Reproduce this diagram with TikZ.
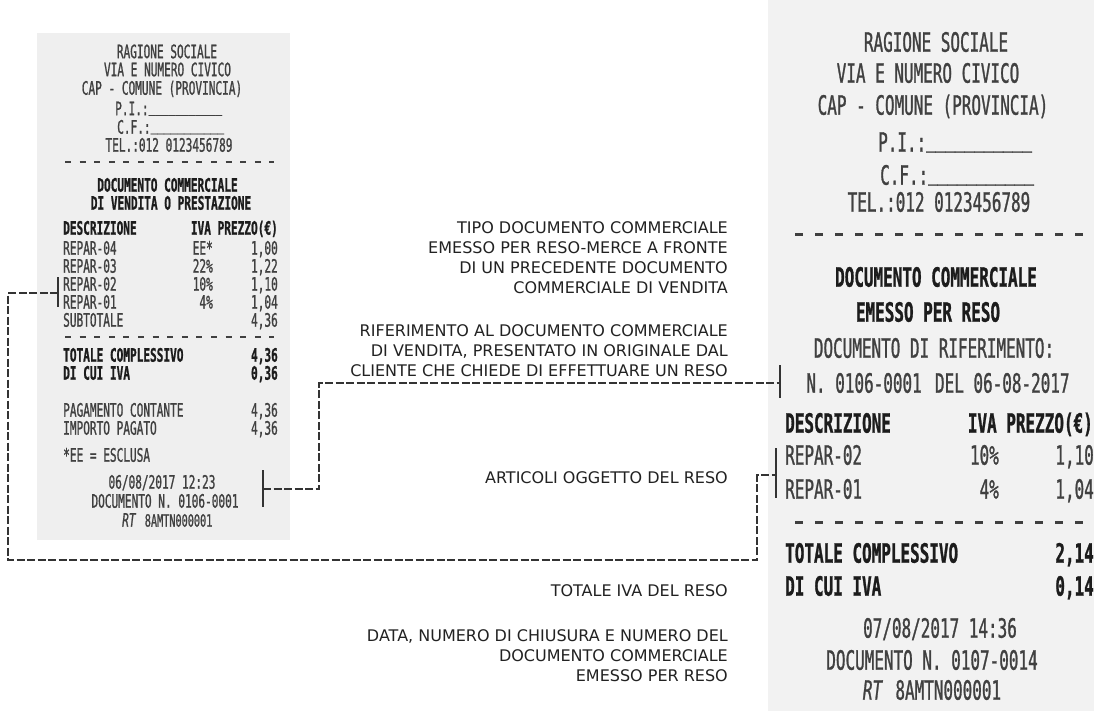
\documentclass[tikz,border=0pt]{standalone}
\usepackage{fontspec}
\newfontfamily\rcptfont[FakeStretch=0.6, FakeBold=1]{DejaVu Sans Mono}
\newfontfamily\labfont{DejaVu Sans}
\newcommand{\blankfield}{\raisebox{0.2em}{\_\_\_\_\_\_\_\_\_\_\_}}
\definecolor{paperl}{HTML}{EFEFEF}
\definecolor{paperr}{HTML}{F2F2F2}
\definecolor{ink}{HTML}{404040}
\definecolor{inkb}{HTML}{1C1C1C}
\definecolor{labink}{HTML}{222222}
\definecolor{linec}{HTML}{333333}
\begin{document}
\begin{tikzpicture}[x=1pt,y=-1pt,
  sm/.style={font=\rcptfont\fontsize{18.5}{20}\selectfont, text=ink, inner sep=0},
  smb/.style={font=\rcptfont\fontsize{18.5}{20}\selectfont\bfseries, text=inkb, inner sep=0},
  lg/.style={font=\rcptfont\fontsize{26.6}{30}\selectfont, text=ink, inner sep=0},
  lgb/.style={font=\rcptfont\fontsize{26.6}{30}\selectfont\bfseries, text=inkb, inner sep=0},
  lab/.style={font=\labfont\fontsize{16}{20}\selectfont, text=labink, align=right, inner sep=0, anchor=north east},
  connline/.style={draw=linec, line width=1.3pt, dash pattern=on 8pt off 2.5pt},
  brk/.style={draw=linec, line width=1.3pt},
  sdash/.style={draw=ink, line width=2pt, dash pattern=on 6pt off 8.6pt},
  ldash/.style={draw=ink, line width=3pt, dash pattern=on 8pt off 12pt},
]
\clip (0,0) rectangle (1094,711);
\fill[white] (0,0) rectangle (1094,711);
\fill[paperl] (37,33) rectangle (290,540);
\fill[paperr] (768,0) rectangle (1094,711);

% ---------- left receipt ----------
\node[sm, anchor=base] (l1) at (167,58.2) {RAGIONE SOCIALE};
\node[sm, anchor=base] (l2) at (167.5,76.2) {VIA E NUMERO CIVICO};
\node[sm, anchor=base, text depth=0pt] (l3) at (162,94.7) {CAP - COMUNE (PROVINCIA)};
\node[sm, anchor=base west] (l4) at (115,115.2) {P.I.:\blankfield};
\node[sm, anchor=base west] (l5) at (117,133.7) {C.F.:\blankfield};
\node[sm, anchor=base] (l6) at (169,151.7) {TEL.:012 0123456789};
\draw[sdash] (65,162) -- (274,162);
\node[smb, anchor=base] (l7) at (167.5,191.7) {DOCUMENTO COMMERCIALE};
\node[smb, anchor=base] (l8) at (171,209.7) {DI VENDITA O PRESTAZIONE};
\node[smb, anchor=base west] (ld) at (63,234.7) {DESCRIZIONE};
\node[smb, anchor=base east] (li) at (278,234.7) {IVA PREZZO(€)};
\node[sm, anchor=base west] (lr4) at (63,254.7) {REPAR-04};
\node[sm, anchor=base east] (lv4) at (213,254.7) {EE*};
\node[sm, anchor=base east] (lp4) at (278,254.7) {1,00};
\node[sm, anchor=base west] (lr3) at (63,272.7) {REPAR-03};
\node[sm, anchor=base east] (lv3) at (213,272.7) {22\%};
\node[sm, anchor=base east] (lp3) at (278,272.7) {1,22};
\node[sm, anchor=base west] (lr2) at (63,290.7) {REPAR-02};
\node[sm, anchor=base east] (lv2) at (213,290.7) {10\%};
\node[sm, anchor=base east] (lp2) at (278,290.7) {1,10};
\node[sm, anchor=base west] (lr1) at (63,308.7) {REPAR-01};
\node[sm, anchor=base east] (lv1) at (213,308.7) {4\%};
\node[sm, anchor=base east] (lp1) at (278,308.7) {1,04};
\node[sm, anchor=base west] (lst) at (63,326.7) {SUBTOTALE};
\node[sm, anchor=base east] (lstv) at (278,326.7) {4,36};
\draw[sdash] (65,337) -- (274,337);
\node[smb, anchor=base west] (ltc) at (63,361.7) {TOTALE COMPLESSIVO};
\node[smb, anchor=base east] (ltcv) at (278,361.7) {4,36};
\node[smb, anchor=base west] (lci) at (63,379.7) {DI CUI IVA};
\node[smb, anchor=base east] (lciv) at (278,379.7) {0,36};
\node[sm, anchor=base west] (lpc) at (63,416.7) {PAGAMENTO CONTANTE};
\node[sm, anchor=base east] (lpcv) at (278,416.7) {4,36};
\node[sm, anchor=base west] (lip) at (63,434.7) {IMPORTO PAGATO};
\node[sm, anchor=base east] (lipv) at (278,434.7) {4,36};
\node[sm, anchor=base west] (lee) at (63,461.7) {*EE = ESCLUSA};
\node[sm, anchor=base] (ldt) at (162,488.7) {06/08/2017 12:23};
\node[sm, anchor=base] (ldn) at (165,507.7) {DOCUMENTO N. 0106-0001};
\node[sm, anchor=base west] (lrt) at (122,526.7) {\itshape RT\enspace\fontsize{17}{20}\selectfont\upshape 8AMTN000001};

% ---------- right receipt ----------
\node[lg, anchor=base] (r1) at (936,51.7) {RAGIONE SOCIALE};
\node[lg, anchor=base] (r2) at (928,82.7) {VIA E NUMERO CIVICO};
\node[lg, anchor=base, text depth=0pt] (r3) at (933,114.7) {CAP - COMUNE (PROVINCIA)};
\node[lg, anchor=base west] (r4) at (878,151.7) {P.I.:\blankfield};
\node[lg, anchor=base west] (r5) at (880,184.7) {C.F.:\blankfield};
\node[lg, anchor=base] (r6) at (939,211.7) {TEL.:012 0123456789};
\draw[ldash] (795,235) -- (1094,235);
\node[lgb, anchor=base] (r7) at (936,286.7) {DOCUMENTO COMMERCIALE};
\node[lgb, anchor=base] (r8) at (928,321.7) {EMESSO PER RESO};
\node[lg, anchor=base] (r9) at (934,357.7) {DOCUMENTO DI RIFERIMENTO:};
\node[lg, anchor=base] (r10) at (938,392.7) {N. 0106-0001\enspace DEL 06-08-2017};
\node[lgb, anchor=base west] (rd) at (785,432.7) {DESCRIZIONE};
\node[lgb, anchor=base east] (ri) at (1093,432.7) {IVA PREZZO(€)};
\node[lg, anchor=base west] (rr2) at (785,464.7) {REPAR-02};
\node[lg, anchor=base east] (rv2) at (999,464.7) {10\%};
\node[lg, anchor=base east] (rp2) at (1094,464.7) {1,10};
\node[lg, anchor=base west] (rr1) at (785,498.7) {REPAR-01};
\node[lg, anchor=base east] (rv1) at (999,498.7) {4\%};
\node[lg, anchor=base east] (rp1) at (1094,498.7) {1,04};
\draw[ldash] (795,522) -- (1094,522);
\node[lgb, anchor=base west] (rtc) at (785,562.7) {TOTALE COMPLESSIVO};
\node[lgb, anchor=base east] (rtcv) at (1094,562.7) {2,14};
\node[lgb, anchor=base west] (rci) at (785,595.7) {DI CUI IVA};
\node[lgb, anchor=base east] (rciv) at (1094,595.7) {0,14};
\node[lg, anchor=base] (rdt) at (940,637.7) {07/08/2017 14:36};
\node[lg, anchor=base] (rdn) at (932,669.7) {DOCUMENTO N. 0107-0014};
\node[lg, anchor=base] (rrt) at (932,699.7) {\itshape RT\enspace\upshape 8AMTN000001};

% ---------- labels ----------
\node[lab] (t1) at (728,221.3) {TIPO DOCUMENTO COMMERCIALE\\EMESSO PER RESO-MERCE A FRONTE\\DI UN PRECEDENTE DOCUMENTO\\COMMERCIALE DI VENDITA};
\node[lab] (t2) at (728,324.3) {RIFERIMENTO AL DOCUMENTO COMMERCIALE\\DI VENDITA, PRESENTATO IN ORIGINALE DAL\\CLIENTE CHE CHIEDE DI EFFETTUARE UN RESO};
\node[lab] (t3) at (728,471.3) {ARTICOLI OGGETTO DEL RESO};
\node[lab] (t4) at (728,584.3) {TOTALE IVA DEL RESO};
\node[lab] (t5) at (728,629.3) {DATA, NUMERO DI CHIUSURA E NUMERO DEL\\DOCUMENTO COMMERCIALE\\EMESSO PER RESO};

% ---------- connectors ----------
\coordinate (a1) at (58,293);
\coordinate (a2) at (776,475);
\coordinate (ac1) at (8,560);
\coordinate (ac2) at (757,475);
\draw[brk] (58,277) -- (58,307);
\draw[brk] (776,448) -- (776,498);
\draw[connline] (a1) -| (ac1) -| (ac2) -- (a2);

\coordinate (b1) at (263,489);
\coordinate (b2) at (780,383);
\coordinate (bc) at (319,435);
\draw[brk] (263,470) -- (263,507);
\draw[brk] (780,365) -- (780,398);
\draw[connline] (b1) -| (bc) |- (b2);
\end{tikzpicture}
\end{document}
